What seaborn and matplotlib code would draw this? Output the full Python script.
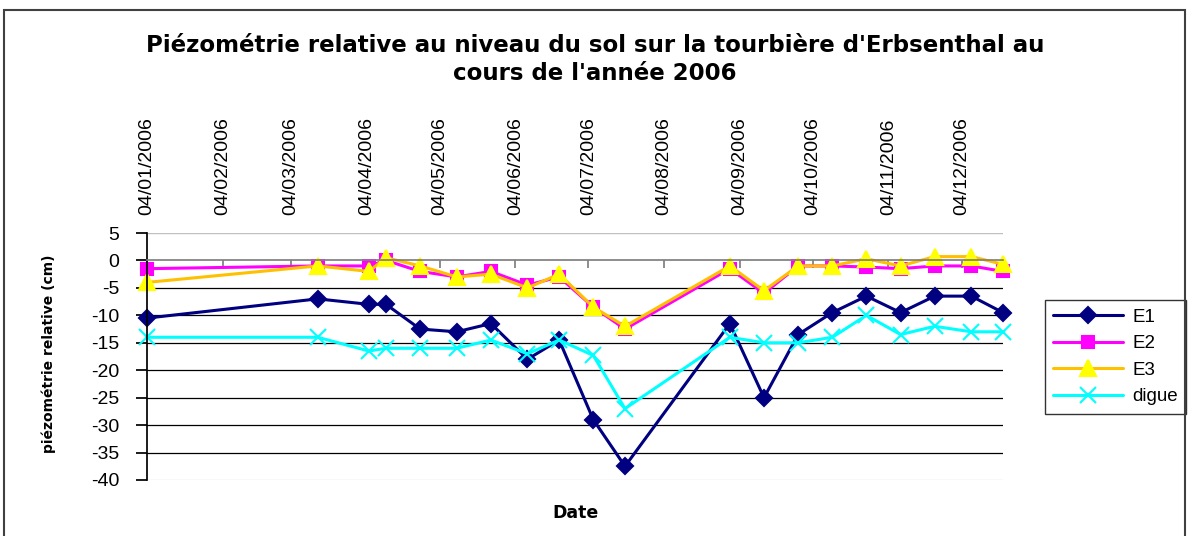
import matplotlib
matplotlib.use("Agg")
import matplotlib.pyplot as plt
import matplotlib.dates as mdates
from matplotlib.patches import Rectangle
import seaborn as sns
import pandas as pd

# --- data ---
dates = pd.to_datetime([
    "2006-01-04", "2006-03-15", "2006-04-05", "2006-04-12", "2006-04-26",
    "2006-05-11", "2006-05-25", "2006-06-09", "2006-06-22", "2006-07-06",
    "2006-07-19", "2006-08-31", "2006-09-14", "2006-09-28", "2006-10-12",
    "2006-10-26", "2006-11-09", "2006-11-23", "2006-12-08", "2006-12-21",
])
e1 = [-10.5, -7, -8, -8, -12.5, -13, -11.5, -18, -14.5, -29,
      -37.5, -11.5, -25, -13.5, -9.5, -6.5, -9.5, -6.5, -6.5, -9.5]
e2 = [-1.5, -1, -1, 0, -2, -3, -2, -4.5, -3, -8.5,
      -12.5, -1.5, -6, -1, -1, -1.2, -1.5, -1, -1, -2]
e3 = [-4, -1, -2, 0.5, -1, -3, -2.5, -5, -2.5, -8.5,
      -12, -1, -5.5, -1, -1, 0.3, -1, 0.7, 0.7, -0.7]
digue = [-14, -14, -16.5, -16, -16, -16, -14.5, -17, -14.5, -17.3,
         -27, -14, -15, -15, -14, -10, -13.5, -12, -13, -13]

month_ticks = pd.date_range("2006-01-01", "2006-12-01", freq="MS") + pd.Timedelta(days=3)
y_ticks = list(range(-40, 6, 5))

sns.set_theme(style="white")
plt.rcParams["font.family"] = ["Liberation Sans", "DejaVu Sans"]
plt.rcParams["text.color"] = "black"
plt.rcParams["xtick.color"] = "black"
plt.rcParams["ytick.color"] = "black"

fig = plt.figure(figsize=(11.92, 5.36), dpi=100)
ax = fig.add_axes([147 / 1192, 1 - 480 / 536, (1003 - 147) / 1192, (480 - 233) / 536])

# horizontal gridlines
for v in y_ticks:
    if -40 < v < 0:
        ax.axhline(v, color="black", lw=0.9, zorder=0.5)
ax.axhline(5, color="#c0c0c0", lw=1, zorder=0.5)
ax.axhline(-40, color="#dddddd", lw=1, zorder=0.5)

series = [
    ("E1", e1, "#000080", "D", "#000080", 8.5),
    ("E2", e2, "#FF00FF", "s", "#FF00FF", 9),
    ("E3", e3, "#FFC000", "^", "#FFFF00", 11),
    ("digue", digue, "#00FFFF", "x", "#00FFFF", 12),
]
for name, vals, col, mk, mfc, ms in series:
    sns.lineplot(x=dates, y=vals, ax=ax, color=col, lw=2.2, marker=mk,
                 markersize=ms, markerfacecolor=mfc, markeredgecolor=mfc,
                 markeredgewidth=1.5, label=name, clip_on=False)

ax.set_xlim(dates[0], dates[-1])
ax.set_ylim(-40, 5)
ax.set_yticks(y_ticks)
ax.set_yticklabels([str(v) for v in y_ticks], fontsize=14)
ax.set_xticks(month_ticks)
ax.xaxis.set_major_formatter(mdates.DateFormatter("%d/%m/%Y"))

ax.spines["bottom"].set_position(("data", 0))
ax.spines["bottom"].set_color("#808080")
ax.spines["top"].set_visible(False)
ax.spines["right"].set_visible(False)
ax.spines["left"].set_color("black")
ax.tick_params(axis="x", bottom=True, top=False, labelbottom=False, labeltop=True,
               direction="out", length=6, color="#808080", labelrotation=90,
               labelsize=14, pad=7)
ax.tick_params(axis="y", left=True, direction="out", length=8, color="black", pad=12)
ax.set_xlabel("")
ax.set_ylabel("")

leg = ax.legend(loc="upper left", bbox_to_anchor=(1045 / 1192, 1 - 300 / 536),
                bbox_transform=fig.transFigure, fontsize=13.5, frameon=True,
                fancybox=False, edgecolor="black", handlelength=3.7,
                labelspacing=0.5, borderaxespad=0, borderpad=0.45, handletextpad=0.5)
leg.get_frame().set_linewidth(1)

fig.text(0.499, 1 - 45 / 536, "Piézométrie relative au niveau du sol sur la tourbière d'Erbsenthal au",
         ha="center", va="center", fontsize=16.5, fontweight="bold", family="DejaVu Sans")
fig.text(0.499, 1 - 73 / 536, "cours de l'année 2006",
         ha="center", va="center", fontsize=16.5, fontweight="bold", family="DejaVu Sans")
fig.text(576 / 1192, 1 - 513 / 536, "Date", ha="center", va="center",
         fontsize=12.5, fontweight="bold", family="DejaVu Sans")
fig.text(49 / 1192, 1 - 354 / 536, "piézométrie relative (cm)", ha="center", va="center",
         rotation=90, fontsize=10, fontweight="bold", family="DejaVu Sans")

# outer chart border
fig.patches.append(Rectangle((4 / 1192, -0.1), (1185 - 4) / 1192, 1.1 - 10 / 536,
                             transform=fig.transFigure, fill=False,
                             edgecolor="#404040", lw=1.5))

fig.savefig("out.png", dpi=100)
